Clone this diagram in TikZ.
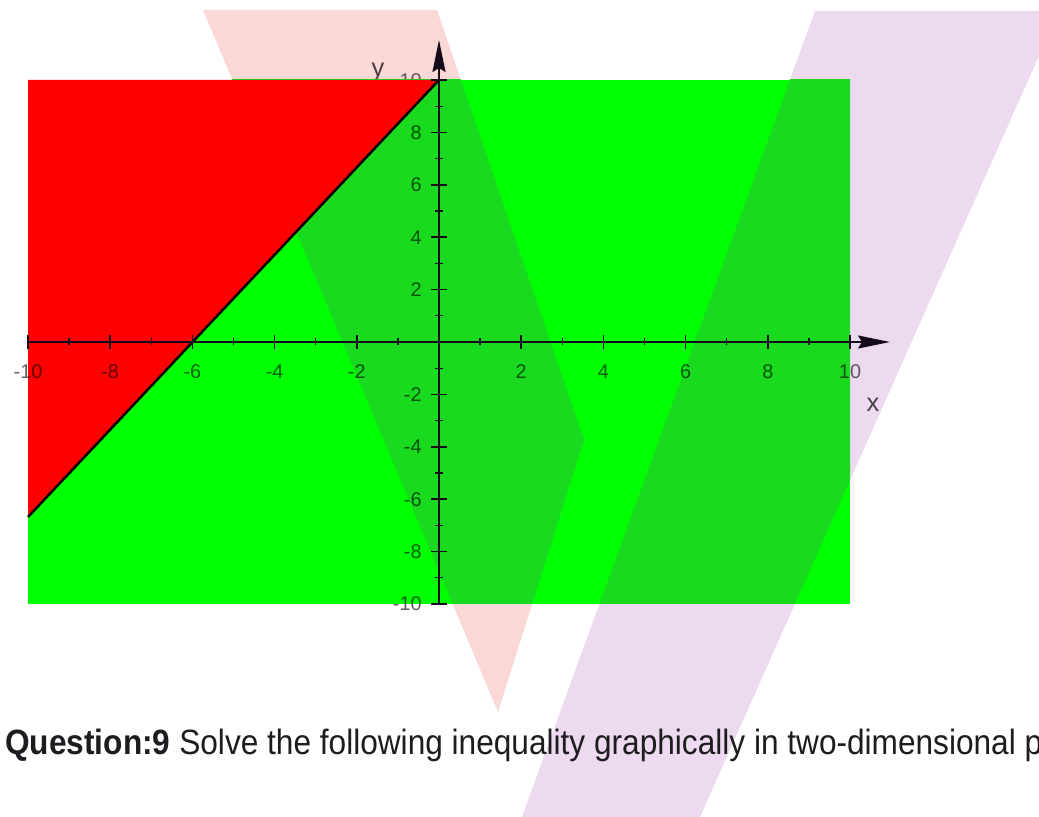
\documentclass[tikz,border=0pt]{standalone}
\usepackage{fontspec}
\setmainfont{Liberation Sans}
\usetikzlibrary{arrows.meta}
\definecolor{pgreen}{RGB}{0,255,0}
\definecolor{pred}{RGB}{255,0,0}
\definecolor{wgreen}{RGB}{25,218,30}
\definecolor{wpink}{RGB}{250,216,214}
\definecolor{wpurple}{RGB}{238,218,240}
\definecolor{axcol}{RGB}{20,10,25}
\begin{document}
\begin{tikzpicture}[x=0.02cm,y=-0.02cm,
  lab/.style={font=\fontsize{11.3}{13}\selectfont, text=black, text opacity=0.62, inner sep=0pt},
  axlab/.style={font=\fontsize{14.5}{16}\selectfont, text=black, text opacity=0.7, inner sep=0pt},
  axisline/.style={draw=axcol, line width=1.1pt, -{Stealth[length=0.64cm,width=0.26cm,inset=0.08cm]}},
  majtick/.style={draw=axcol, line width=0.9pt},
  mintick/.style={draw=axcol, line width=0.7pt},
  boundary/.style={draw=black, line width=1.4pt},
  qtext/.style={font=\fontsize{20}{23}\selectfont, text={rgb,255:red,30;green,28;blue,32}, inner sep=0pt, anchor=base west}]
\useasboundingbox (0,0) rectangle (1039,817);
\fill[white] (0,0) rectangle (1039,817);
% watermark
\fill[wpink] (203,10) -- (437,10) -- (584,440) -- (498,712) -- cycle;
\fill[wpurple] (815,11) -- (1059,11) -- (700,817) -- (522,817) -- cycle;
% labels partly hidden by the red region
\node[lab, anchor=east] (yl10) at (422,81) {10};
\node[axlab] (ylab) at (378,72) {y};
% plot regions
\fill[pgreen] (28,80) rectangle (850,604);
\begin{scope}
  \clip (28,80) rectangle (850,604);
  \fill[wgreen] (203,10) -- (437,10) -- (584,440) -- (498,712) -- cycle;
  \fill[wgreen] (815,11) -- (1059,11) -- (700,817) -- (522,817) -- cycle;
\end{scope}
\fill[pred] (28,80) -- (439,80) -- (28,517) -- cycle;
\coordinate (b1) at (28,517);
\coordinate (b2) at (439,80);
\draw[boundary] (b1) -- (b2);
% axes
\coordinate (xs) at (28,342);
\coordinate (xe) at (890,342);
\coordinate (ys) at (439,604);
\coordinate (ye) at (439,40);
\draw[axisline] (xs) -- (xe);
\draw[axisline] (ys) -- (ye);
\foreach \i in {-10,-8,...,10} {
  \draw[majtick] ({439+41.1*\i},335) -- ({439+41.1*\i},349);
  \draw[majtick] (431,{342-26.2*\i}) -- (447,{342-26.2*\i});
}
\foreach \i in {-9,-7,...,9} {
  \draw[mintick] ({439+41.1*\i},338.5) -- ({439+41.1*\i},345.5);
  \draw[mintick] (435,{342-26.2*\i}) -- (443,{342-26.2*\i});
}
% tick labels
\foreach \i in {-10,-8,-6,-4,-2,2,4,6,8,10} {
  \node[lab] (xl\i) at ({439+41.1*\i},372) {\i};
}
\foreach \i in {-10,-8,-6,-4,-2,2,4,6,8} {
  \node[lab, anchor=east] (yl\i) at (422,{342-26.2*\i}) {\i};
}
\node[axlab] (xlab) at (873,405) {x};
% question text
\node[qtext] (q) at (5,755) {\scalebox{0.9}[1]{\textbf{Question:9} Solve the following inequality graphically in two-dimensional p}};
\end{tikzpicture}
\end{document}
